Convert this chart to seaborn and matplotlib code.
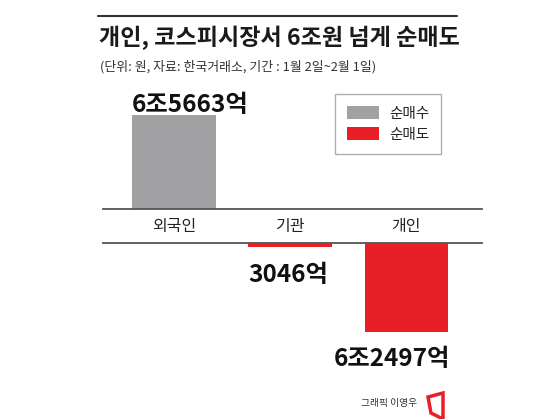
import pandas as pd
import matplotlib
matplotlib.use('Agg')
import matplotlib.pyplot as plt
import matplotlib.transforms as mtransforms
from matplotlib.patches import Patch, Polygon
from matplotlib.lines import Line2D
import seaborn as sns

# ========================================
# Данные
# ========================================
categories = ['외국인', '기관', '개인']
values = [65663, -3046, -62497]          # 억원
value_labels = ['6조5663억', '3046억', '6조2497억']
kinds = ['순매수', '순매도', '순매도']
colors = {'순매수': '#a1a1a3', '순매도': '#e81f27'}

title = '개인, 코스피시장서 6조원 넘게 순매도'
subtitle = '(단위: 원, 자료: 한국거래소, 기간 : 1월 2일~2월 1일)'
credit = '그래픽 이영우'

df = pd.DataFrame({'cat': categories, 'val': values, 'kind': kinds})

# ========================================
# Стиль
# ========================================
sns.set_style('white')
plt.rcParams['font.family'] = ['Noto Sans CJK KR', 'DejaVu Sans']

W, H = 550, 419
fig = plt.figure(figsize=(W / 100, H / 100), dpi=100)

# масштаб: пикселей на 1 억
k = 94 / 65663

def fx(px):
    return px / W

def fy(py):
    return 1 - py / H

x_left, x_right = 103, 482
ax_top = fig.add_axes([fx(x_left), fy(209), fx(x_right - x_left), (209 - 85) / H])
ax_bot = fig.add_axes([fx(x_left), fy(380), fx(x_right - x_left), (380 - 243) / H])

xlim = (-(174 - x_left) / 116, 2 + (x_right - 406.5) / 116)

for ax in (ax_top, ax_bot):
    sns.barplot(data=df, x='cat', y='val', hue='kind', palette=colors,
                dodge=False, width=0.72, saturation=1, linewidth=0,
                legend=False, ax=ax)
    ax.set_xlim(*xlim)
    ax.set_xlabel('')
    ax.set_ylabel('')
    ax.set_xticks([])
    ax.set_yticks([])
    for s in ax.spines.values():
        s.set_visible(False)
    ax.patch.set_alpha(0)

ax_top.set_ylim(0, 124 / k)
ax_bot.set_ylim(-137 / k, 0)
ax_top.spines['bottom'].set_visible(True)
ax_bot.spines['top'].set_visible(True)
for sp in (ax_top.spines['bottom'], ax_bot.spines['top']):
    sp.set_color('#555555')
    sp.set_linewidth(1.3)

# подписи категорий между двумя линиями
tr = mtransforms.blended_transform_factory(ax_top.transData, fig.transFigure)
for i, c in enumerate(categories):
    fig.text(i, fy(226), c, transform=tr, ha='center', va='center',
             fontsize=11.5, color='#222222')

# подписи значений
half = 0.36
for i, (v, lab) in enumerate(zip(values, value_labels)):
    if v > 0:
        ax_top.annotate(lab, (i - half, v), xytext=(-1, 3), textcoords='offset pixels',
                        ha='left', va='baseline', fontsize=17.5, fontweight='bold',
                        color='#111111', annotation_clip=False)
    elif i == 1:
        ax_bot.annotate(lab, (i - half, v), xytext=(0, -35), textcoords='offset pixels',
                        ha='left', va='baseline', fontsize=17.5, fontweight='bold',
                        color='#111111', annotation_clip=False)
    else:
        ax_bot.annotate(lab, (i + half, v), xytext=(2, -34), textcoords='offset pixels',
                        ha='right', va='baseline', fontsize=17.5, fontweight='bold',
                        color='#111111', annotation_clip=False)

# легенда
handles = [Patch(facecolor=colors[n], edgecolor='none', label=n) for n in ['순매수', '순매도']]
leg = fig.legend(handles=handles, loc='upper left', bbox_to_anchor=(fx(335), fy(94)),
                 borderaxespad=0, frameon=True, fancybox=False, fontsize=10.5,
                 handlelength=2.2, handleheight=0.95, handletextpad=0.65,
                 labelspacing=0.45, borderpad=0.85)
leg.get_frame().set_edgecolor('#9a9a9a')
leg.get_frame().set_linewidth(1)
for t in leg.get_texts():
    t.set_color('#222222')

# заголовок
fig.add_artist(Line2D([fx(98), fx(457)], [fy(16), fy(16)], color='#333333', lw=1.5))
fig.text(fx(99), fy(38), title, ha='left', va='center', fontsize=16.6,
         fontweight='bold', color='#1a1a1a')
fig.text(fx(100), fy(67), subtitle, ha='left', va='center', fontsize=9.3,
         color='#333333')

# подпись автора
fig.text(fx(417), fy(403), credit, ha='right', va='center', fontsize=7, color='#333333')
fig.add_artist(Polygon([(fx(428), fy(397)), (fx(443), fy(393)), (fx(443), fy(419)),
                        (fx(431), fy(413))], closed=True, fill=False,
                       edgecolor='#e81f27', lw=2.5, transform=fig.transFigure))

fig.savefig('out.png', dpi=100, facecolor='white')
